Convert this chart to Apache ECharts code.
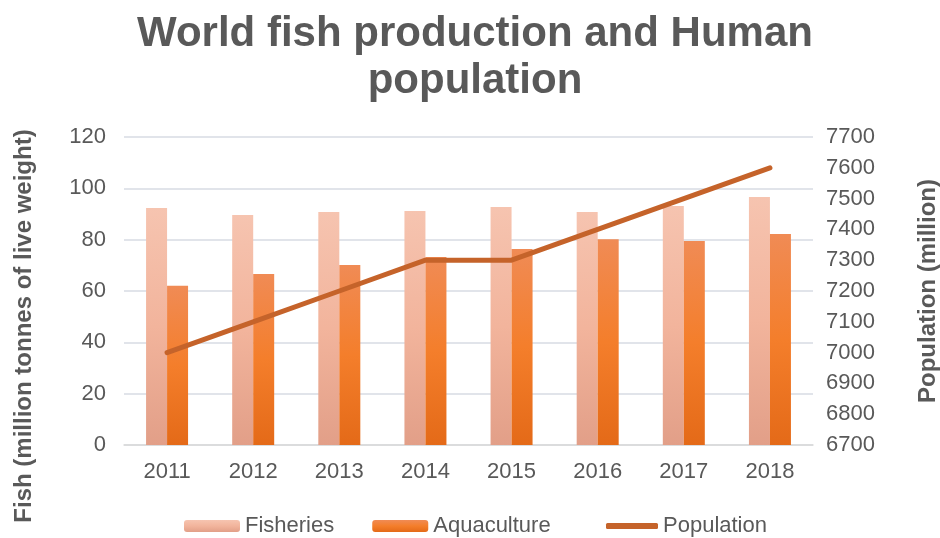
<!DOCTYPE html>
<html><head><meta charset="utf-8">
<script src="https://cdn.jsdelivr.net/npm/echarts@6/dist/echarts.min.js"></script>
<style>html,body{margin:0;padding:0;background:#fff}#c{width:940px;height:538px}</style>
</head><body><div id="c"></div>
<script>
const years = ['2011','2012','2013','2014','2015','2016','2017','2018'];
const fisheries = [92.3, 89.6, 90.8, 91.2, 92.7, 90.8, 93.1, 96.6];
const aquaculture = [62.0, 66.6, 70.1, 73.2, 76.4, 80.2, 79.5, 82.2];
const population = [7000, 7100, 7200, 7300, 7300, 7400, 7500, 7600];

const chart = echarts.init(document.getElementById('c'));
const grad = (a, b, c) => new echarts.graphic.LinearGradient(0, 0, 0, 1, [{offset:0,color:a},{offset:0.5,color:b},{offset:1,color:c}]);
const txt = '#595959';
const font = 'Liberation Sans, Arial, sans-serif';
chart.setOption({
  animation: false,
  textStyle: {fontFamily: font},
  title: {
    text: 'World fish production and Human\npopulation',
    left: 470, textAlign: 'center', top: 6,
    textStyle: {fontSize: 42, fontWeight: 'bold', color: txt, lineHeight: 47, fontFamily: font}
  },
  legend: [{
    top: 515, left: 184, padding: 0, itemWidth: 56, itemHeight: 12, itemGap: 38,
    textStyle: {fontSize: 22, color: txt, fontFamily: font},
    data: ['Fisheries', 'Aquaculture']
  }, {
    top: 515, left: 606, padding: 0, itemWidth: 52, itemHeight: 6,
    textStyle: {fontSize: 22, color: txt, fontFamily: font},
    data: [{name: 'Population', icon: 'roundRect'}]
  }],
  grid: {left: 124, right: 127, top: 137, bottom: 93, outerBoundsMode: 'none', containLabel: false},
  xAxis: {
    type: 'category', data: years,
    axisLine: {lineStyle: {color: '#D9D9D9', width: 1.5}},
    axisTick: {show: false},
    axisLabel: {fontSize: 22, color: txt, margin: 16, fontFamily: font}
  },
  yAxis: [{
    type: 'value', min: 0, max: 120, interval: 20,
    name: 'Fish (million tonnes of live weight)', nameLocation: 'middle', nameGap: 88,
    nameTextStyle: {fontSize: 24, fontWeight: 'bold', color: txt, fontFamily: font, padding: [0, 70, 0, 0]},
    axisLabel: {fontSize: 22, color: txt, margin: 18, fontFamily: font},
    splitLine: {lineStyle: {color: '#E1E4EA', width: 2}},
    axisLine: {show: false}, axisTick: {show: false}
  }, {
    type: 'value', min: 6700, max: 7700, interval: 100,
    name: 'Population (million)', nameLocation: 'middle', nameGap: 103, nameRotate: 90,
    nameTextStyle: {fontSize: 24, fontWeight: 'bold', color: txt, fontFamily: font},
    axisLabel: {fontSize: 22, color: txt, margin: 13, fontFamily: font, formatter: v => String(v)},
    splitLine: {show: false}, axisLine: {show: false}, axisTick: {show: false}
  }],
  series: [{
    name: 'Fisheries', type: 'bar', data: fisheries, barWidth: 21, barGap: '0%',
    itemStyle: {color: grad('#F6C4B0', '#F2B49C', '#E29F88')}
  }, {
    name: 'Aquaculture', type: 'bar', data: aquaculture, barWidth: 21,
    itemStyle: {color: grad('#F08B55', '#F47E2B', '#E46A18')}
  }, {
    name: 'Population', type: 'line', yAxisIndex: 1, data: population,
    symbol: 'none', lineStyle: {color: '#C5632A', width: 5, cap: 'round'},
    itemStyle: {color: '#C5632A'}
  }]
});
</script></body></html>
